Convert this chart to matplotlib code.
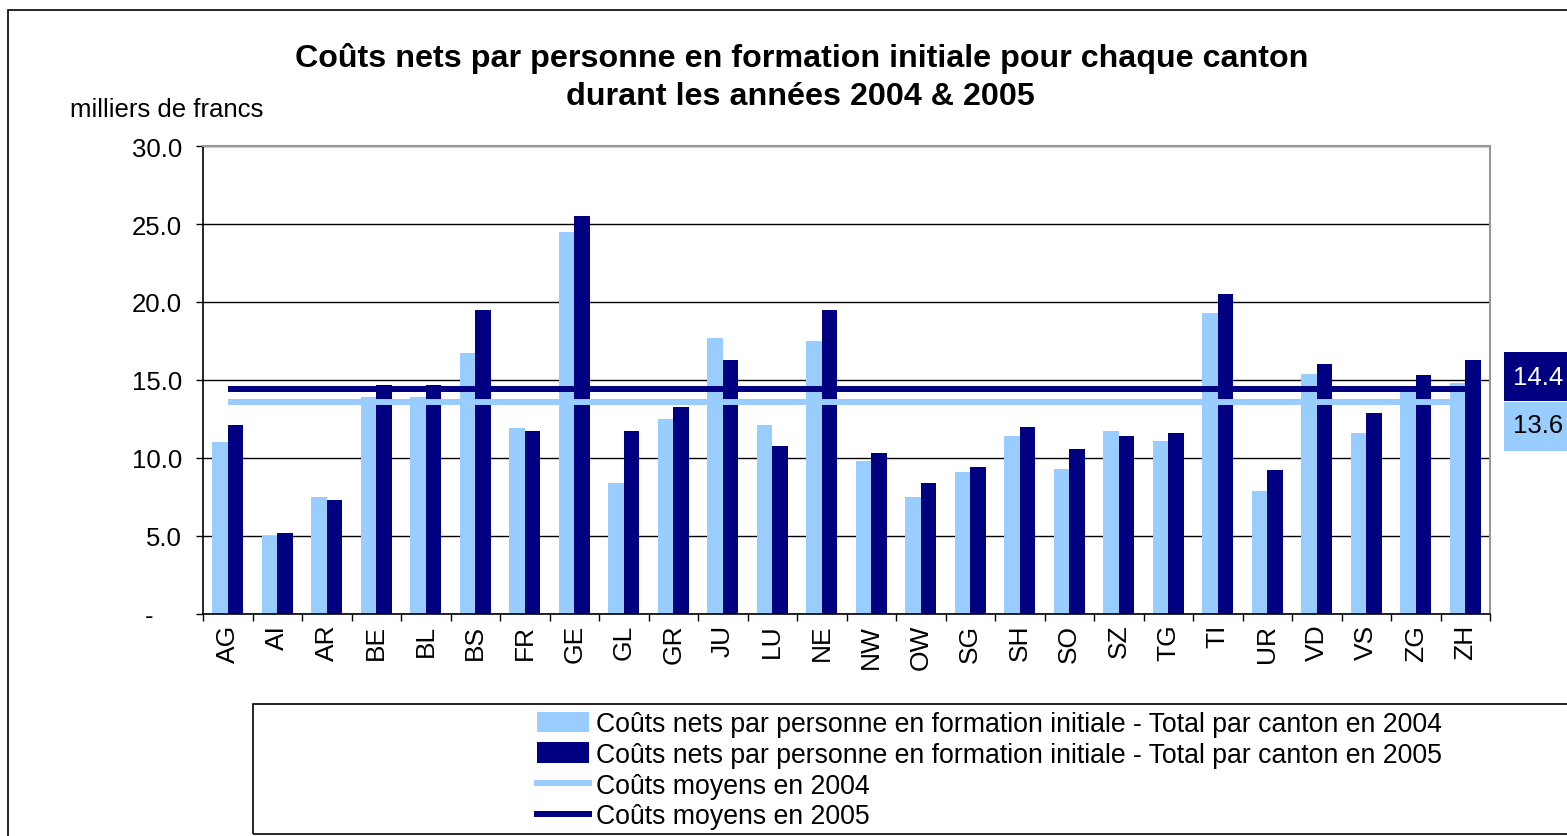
import matplotlib.pyplot as plt
import numpy as np
from matplotlib.patches import Rectangle
from matplotlib.lines import Line2D

plt.rcParams['font.family'] = ['Liberation Sans', 'DejaVu Sans']

# data
cantons = ["AG", "AI", "AR", "BE", "BL", "BS", "FR", "GE", "GL", "GR", "JU", "LU", "NE",
           "NW", "OW", "SG", "SH", "SO", "SZ", "TG", "TI", "UR", "VD", "VS", "ZG", "ZH"]
couts_2004 = [11.0, 5.0, 7.5, 13.9, 13.9, 16.7, 11.9, 24.5, 8.4, 12.5, 17.7, 12.1, 17.5,
              9.8, 7.5, 9.1, 11.4, 9.3, 11.7, 11.1, 19.3, 7.9, 15.4, 11.6, 14.2, 14.8]
couts_2005 = [12.1, 5.2, 7.3, 14.7, 14.7, 19.5, 11.7, 25.5, 11.7, 13.3, 16.3, 10.8, 19.5,
              10.3, 8.4, 9.4, 12.0, 10.6, 11.4, 11.6, 20.5, 9.2, 16.0, 12.9, 15.3, 16.3]
moyen_2004 = 13.6
moyen_2005 = 14.4

labels = ["Coûts nets par personne en formation initiale - Total par canton en 2004",
          "Coûts nets par personne en formation initiale - Total par canton en 2005",
          "Coûts moyens en 2004",
          "Coûts moyens en 2005"]

light = "#99CCFF"
dark = "#000080"

W, H = 1567, 837
fig = plt.figure(figsize=(W / 100, H / 100), dpi=100)

def fx(px):
    return px / W

def fy(py):
    return 1 - py / H

ax = fig.add_axes([fx(203), fy(615), fx(1490 - 203), (615 - 147) / H])

x = np.arange(len(cantons))
w = 0.31
ax.bar(x - w / 2, couts_2004, w, color=light, zorder=2)
ax.bar(x + w / 2, couts_2005, w, color=dark, zorder=2)
ax.plot([x[0], x[-1]], [moyen_2004, moyen_2004], color=light, lw=4.3, zorder=3,
        solid_capstyle='butt')
ax.plot([x[0], x[-1]], [moyen_2005, moyen_2005], color=dark, lw=4.3, zorder=3,
        solid_capstyle='butt')

ax.set_xlim(-0.5, len(cantons) - 0.5)
ax.set_ylim(0, 30)

yt = np.arange(0, 31, 5)
ax.set_yticks(yt)
ax.set_yticklabels(["-    "] + ["%.1f" % v for v in yt[1:]], fontsize=18.5)
ax.tick_params(axis='y', length=5, width=1, pad=10, color='black')
ax.yaxis.grid(True, color='black', lw=1)
ax.set_axisbelow(True)

ax.set_xticks(x)
ax.set_xticklabels(cantons, rotation=90, fontsize=19)
ax.set_xticks(np.arange(len(cantons) + 1) - 0.5, minor=True)
ax.tick_params(axis='x', which='major', length=0, pad=7)
ax.tick_params(axis='x', which='minor', length=5, width=1, color='black')

for s in ['top', 'right']:
    ax.spines[s].set_color('#999999')
    ax.spines[s].set_linewidth(1.5)
for s in ['left', 'bottom']:
    ax.spines[s].set_color('black')
    ax.spines[s].set_linewidth(1.2)

# titles
fig.text(fx(802), fy(58), "Coûts nets par personne en formation initiale pour chaque canton",
         ha='center', va='center', fontsize=23.2, fontweight='bold')
fig.text(fx(800), fy(97), "durant les années 2004 & 2005",
         ha='center', va='center', fontsize=23.2, fontweight='bold')
fig.text(fx(70), fy(110), "milliers de francs", ha='left', va='center', fontsize=18.5)

# outer border and legend box
fig.add_artist(Rectangle((fx(8), -0.1), 1.2, fy(11) + 0.1, transform=fig.transFigure,
                         fill=False, ec='black', lw=1.2))
fig.add_artist(Rectangle((fx(253), fy(835)), 1.0, (835 - 705) / H, transform=fig.transFigure,
                         fill=False, ec='black', lw=1.2))

handles = [Rectangle((0, 0), 1, 1, fc=light), Rectangle((0, 0), 1, 1, fc=dark),
           Line2D([], [], color=light, lw=4.3), Line2D([], [], color=dark, lw=4.3)]
fig.legend(handles, labels, loc='upper left', bbox_to_anchor=(fx(537), fy(712)),
           frameon=False, fontsize=19.2, borderpad=0, borderaxespad=0,
           handlelength=1.95, handleheight=0.8, handletextpad=0.28, labelspacing=0.18)

# mean value boxes on the right
fig.add_artist(Rectangle((fx(1504), fy(402)), 0.1, 49 / H, transform=fig.transFigure,
                         fc=dark, ec='none'))
fig.add_artist(Rectangle((fx(1504), fy(452)), 0.1, 49 / H, transform=fig.transFigure,
                         fc=light, ec='none'))
fig.text(fx(1563), fy(378), "%.1f" % moyen_2005, ha='right', va='center', fontsize=18.5,
         color='white')
fig.text(fx(1563), fy(426), "%.1f" % moyen_2004, ha='right', va='center', fontsize=18.5,
         color='black')

fig.savefig("out.png", dpi=100)
